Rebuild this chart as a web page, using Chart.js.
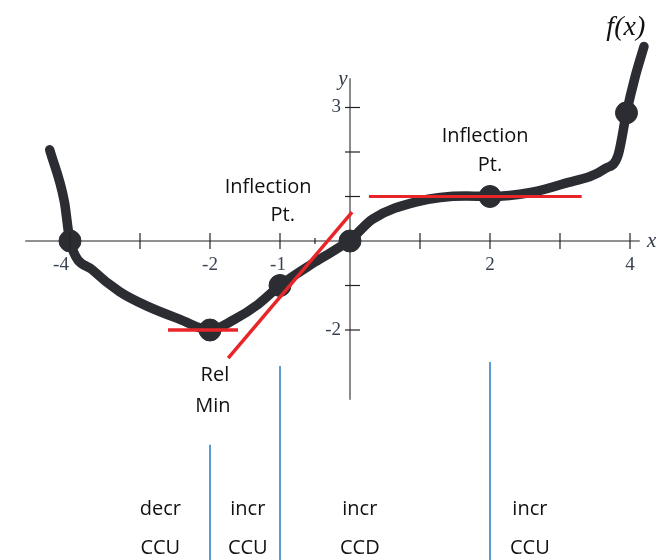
<!DOCTYPE html>
<html>
<head>
<meta charset="utf-8">
<script src="https://cdn.jsdelivr.net/npm/chart.js@4/dist/chart.umd.min.js"></script>
<style>
  html, body { margin: 0; padding: 0; background: #ffffff; }
  #wrap { width: 660px; height: 560px; position: relative; }
</style>
</head>
<body>
<div id="wrap"><canvas id="c" width="660" height="560"></canvas></div>
<script>
// ---- data ----
const curveX = [-4.29, -4.08, -4.0, -3.68, -3.29, -2.89, -2.43, -2.0, -1.66, -1.31, -1.0, -0.51, 0.0, 0.32, 0.95, 1.66, 2.0, 2.58, 3.04, 3.65, 3.83, 3.95, 4.07, 4.2];
const curveY = [2.05, 0.88, 0.0, -0.65, -1.14, -1.47, -1.76, -2.0, -1.77, -1.42, -1.0, -0.48, 0.02, 0.49, 0.88, 1.01, 1.0, 1.09, 1.28, 1.63, 1.93, 2.88, 3.67, 4.37];

const keyX = [-4, -2, -1, 0, 2, 3.95];
const keyY = [0, -2, -1, 0, 1, 2.88];

// tangent segments (red)
const tanMinX = [-2.6, -1.6];
const tanMinY = [-2, -2];
const tanInfl1X = [-1.74, 0.03];
const tanInfl1Y = [-2.63, 0.65];
const tanInfl2X = [0.27, 3.31];
const tanInfl2Y = [1, 1];

// axes
const xAxisX = [-4.64, 4.14];
const yAxisY = [3.66, -3.57];
const xTickVals = [-4, -3, -2, -1, 1, 2, 3, 4];
const xMinorTickVals = [-0.5];
const yTickVals = [3, 2, 1, -1, -2];
const xLabelVals = [-4, -2, -1, 2, 4];
const yLabelVals = [3, -2];

// interval dividers (blue)
const dividerX = [-2, -1, 2];
const dividerTop = [-4.58, -2.81, -2.72];
const dividerBottom = -7.3;

// interval labels
const intervalX = [-2.71, -1.46, 0.14, 2.57];
const intervalMono = ['decr', 'incr', 'incr', 'incr'];
const intervalConc = ['CCU', 'CCU', 'CCD', 'CCU'];

// point annotations
const noteText = ['Rel', 'Min', 'Inflection', 'Pt.', 'Inflection', 'Pt.'];
const noteX = [-1.93, -1.96, -1.17, -0.96, 1.93, 2.0];
const noteY = [-3.01, -3.71, 1.21, 0.58, 2.36, 1.71];

// label nudges (pixels), style only
const xLabelShift = [-9, 0, -2, 0, 0];

const pairs = (xs, ys) => xs.map((x, i) => ({ x: x, y: ys[i] }));

const RED = '#e8262a';
const INK = '#2b2d33';
const BLUE = '#5b9bd5';

const data = {
  datasets: [
    { data: pairs(tanMinX, tanMinY), showLine: true, borderColor: RED, borderWidth: 3.5, pointRadius: 0, order: 0 },
    { data: pairs(tanInfl1X, tanInfl1Y), showLine: true, borderColor: RED, borderWidth: 3.5, pointRadius: 0, order: 0 },
    { data: pairs(tanInfl2X, tanInfl2Y), showLine: true, borderColor: RED, borderWidth: 3, pointRadius: 0, order: 0 },
    { data: pairs(keyX, keyY), showLine: false, backgroundColor: INK, borderColor: INK, pointRadius: 11, pointHoverRadius: 11, order: 1 },
    { data: pairs(curveX, curveY), showLine: true, borderColor: INK, borderWidth: 9.5, pointRadius: 0, cubicInterpolationMode: 'monotone', borderCapStyle: 'round', borderJoinStyle: 'round', order: 2 },
    { data: pairs(xAxisX, [0, 0]), showLine: true, borderColor: '#222222', borderWidth: 1.2, pointRadius: 0, order: 3 },
    { data: pairs([0, 0], yAxisY), showLine: true, borderColor: '#8a8a8a', borderWidth: 2, pointRadius: 0, order: 3 }
  ].concat(dividerX.map((x, i) => ({
    data: pairs([x, x], [dividerTop[i], dividerBottom]),
    showLine: true, borderColor: BLUE, borderWidth: 2, pointRadius: 0, order: 4
  })))
};

const annotate = {
  id: 'annotate',
  afterDatasetsDraw(chart) {
    const ctx = chart.ctx;
    const xs = chart.scales.x, ys = chart.scales.y;
    const X = v => xs.getPixelForValue(v), Y = v => ys.getPixelForValue(v);
    const y0 = Y(0), x0 = X(0);
    ctx.save();
    // tick marks
    ctx.strokeStyle = '#222222';
    ctx.lineWidth = 1.2;
    xTickVals.forEach(v => { ctx.beginPath(); ctx.moveTo(X(v), y0 - 8); ctx.lineTo(X(v), y0 + 8); ctx.stroke(); });
    xMinorTickVals.forEach(v => { ctx.beginPath(); ctx.moveTo(X(v), y0 - 3); ctx.lineTo(X(v), y0 + 3); ctx.stroke(); });
    yTickVals.forEach(v => { ctx.beginPath(); ctx.moveTo(x0 - 5, Y(v)); ctx.lineTo(x0 + 10, Y(v)); ctx.stroke(); });
    // axis tick labels
    ctx.fillStyle = '#3a4152';
    ctx.font = '19px "Liberation Serif"';
    ctx.textAlign = 'center';
    ctx.textBaseline = 'middle';
    xLabelVals.forEach((v, i) => ctx.fillText(String(v), X(v) + xLabelShift[i], y0 + 24));
    ctx.textAlign = 'right';
    yLabelVals.forEach(v => ctx.fillText(String(v), x0 - 9, Y(v)));
    // texts
    ctx.fillStyle = '#111111';
    ctx.textAlign = 'center';
    ctx.font = '20px "Open Sans"';
    noteText.forEach((t, i) => ctx.fillText(t, X(noteX[i]), Y(noteY[i])));
    intervalX.forEach((x, i) => {
      ctx.fillText(intervalMono[i], X(x), Y(-6.04));
      ctx.fillText(intervalConc[i], X(x), Y(-6.9));
    });
    // axis names and function name
    ctx.fillStyle = '#333a48';
    ctx.font = 'italic 21px "Liberation Serif"';
    ctx.fillText('y', X(-0.1), Y(3.62));
    ctx.fillText('x', X(4.31), Y(0));
    ctx.fillStyle = '#111111';
    ctx.font = 'italic 28px "Liberation Serif"';
    ctx.fillText('f(x)', X(3.94), Y(4.8));
    ctx.restore();
  }
};

new Chart(document.getElementById('c'), {
  type: 'scatter',
  data: data,
  plugins: [annotate],
  options: {
    responsive: false,
    animation: false,
    events: [],
    layout: { padding: 0, autoPadding: false },
    plugins: { legend: { display: false }, tooltip: { enabled: false } },
    scales: {
      x: { type: 'linear', display: false, min: -5.0, max: 4.4286 },
      y: { type: 'linear', display: false, min: -7.1685, max: 5.4157 }
    }
  }
});
</script>
</body>
</html>
